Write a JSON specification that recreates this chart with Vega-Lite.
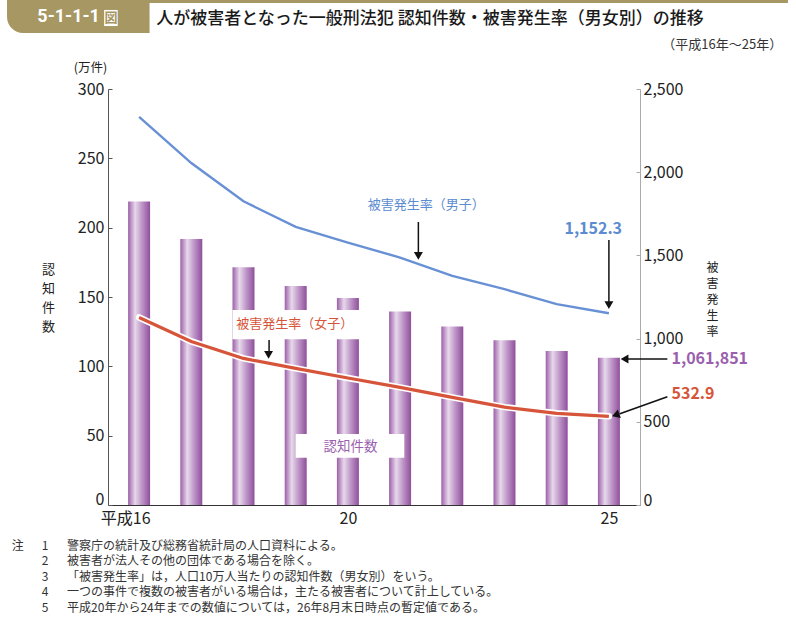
{
  "$schema": "https://vega.github.io/schema/vega-lite/v6.json",
  "width": 532,
  "height": 416,
  "autosize": {"type": "none"},
  "padding": {"left": 108, "top": 89, "right": 156, "bottom": 113},
  "background": "white",
  "config": {"view": {"stroke": null}, "font": "Noto Sans CJK JP"},
  "layer": [
    {
      "data": {"values": [
        {"year": 16, "count": 218.9},
        {"year": 17, "count": 191.8},
        {"year": 18, "count": 171.5},
        {"year": 19, "count": 158.0},
        {"year": 20, "count": 149.2},
        {"year": 21, "count": 139.6},
        {"year": 22, "count": 128.8},
        {"year": 23, "count": 118.9},
        {"year": 24, "count": 111.0},
        {"year": 25, "count": 106.2}
      ]},
      "mark": {"type": "bar", "width": 22, "color": {"gradient": "linear", "x1": 0, "y1": 0, "x2": 1, "y2": 0, "stops": [
        {"offset": 0, "color": "#9d5fa9"},
        {"offset": 0.32, "color": "#e7d9eb"},
        {"offset": 0.62, "color": "#bf97c8"},
        {"offset": 1, "color": "#8f4f9b"}
      ]}},
      "encoding": {
        "x": {"field": "year", "type": "quantitative", "title": null,
          "scale": {"domain": [15.5, 25.5], "nice": false, "zero": false},
          "axis": {"values": [16, 20, 25], "labelExpr": "datum.value == 16 ? '平成16' : datum.label",
            "ticks": false, "grid": false, "domainColor": "#333", "domainWidth": 1,
            "labelFontSize": 16, "labelColor": "#222", "labelPadding": 5, "labelFlush": false, "labelOverlap": false,
            "labelAlign": {"condition": {"test": "datum.value == 16", "value": "right"}, "value": "center"},
            "labelOffset": {"condition": {"test": "datum.value == 16", "value": 11}, "value": 0}}},
        "y": {"field": "count", "type": "quantitative",
          "scale": {"domain": [0, 300], "nice": false},
          "axis": {"values": [0, 50, 100, 150, 200, 250, 300], "grid": false, "tickSize": -4,
            "domainColor": "#555", "tickColor": "#555", "labelFontSize": 16, "labelColor": "#222", "labelPadding": 8,
            "labelOffset": {"condition": {"test": "datum.value == 0", "value": -6}, "value": 0},
            "title": ["認", "知", "件", "数"], "titleAngle": 0, "titleX": -60, "titleY": 174, "titleAlign": "center",
            "titleBaseline": "top", "titleLineHeight": 19, "titleFontSize": 13, "titleFontWeight": "normal", "titleColor": "#222"}}
      }
    },
    {
      "data": {"values": [
        {"year": 16, "sex": "男子", "rate": 2332},
        {"year": 17, "sex": "男子", "rate": 2055},
        {"year": 18, "sex": "男子", "rate": 1825},
        {"year": 19, "sex": "男子", "rate": 1671},
        {"year": 20, "sex": "男子", "rate": 1577},
        {"year": 21, "sex": "男子", "rate": 1487},
        {"year": 22, "sex": "男子", "rate": 1377},
        {"year": 23, "sex": "男子", "rate": 1297},
        {"year": 24, "sex": "男子", "rate": 1207},
        {"year": 25, "sex": "男子", "rate": 1152.3},
        {"year": 16, "sex": "女子", "rate": 1127},
        {"year": 17, "sex": "女子", "rate": 983},
        {"year": 18, "sex": "女子", "rate": 881},
        {"year": 19, "sex": "女子", "rate": 821},
        {"year": 20, "sex": "女子", "rate": 763},
        {"year": 21, "sex": "女子", "rate": 707},
        {"year": 22, "sex": "女子", "rate": 647},
        {"year": 23, "sex": "女子", "rate": 588},
        {"year": 24, "sex": "女子", "rate": 551},
        {"year": 25, "sex": "女子", "rate": 532.9}
      ]},
      "encoding": {
        "x": {"field": "year", "type": "quantitative", "title": null},
        "y": {"field": "rate", "type": "quantitative",
          "scale": {"domain": [0, 2500], "nice": false},
          "axis": {"orient": "right", "values": [0, 500, 1000, 1500, 2000, 2500], "labelExpr": "format(datum.value, ',')", "grid": false, "tickSize": -4,
            "domainColor": "#aaa", "tickColor": "#aaa", "labelFontSize": 16, "labelColor": "#222", "labelPadding": 7,
            "labelOffset": {"condition": {"test": "datum.value == 0", "value": -5}, "value": 0},
            "title": ["被", "害", "発", "生", "率"], "titleAngle": 0, "titleX": 72, "titleY": 173, "titleAlign": "center",
            "titleBaseline": "top", "titleLineHeight": 16, "titleFontSize": 12, "titleFontWeight": "normal", "titleColor": "#222"}}
      },
      "layer": [
        {"transform": [{"filter": "datum.sex == '女子'"}], "mark": {"type": "line", "color": "white", "strokeWidth": 6.5, "strokeCap": "round"}, "encoding": {}},
        {"transform": [{"filter": "datum.sex == '女子'"}], "mark": {"type": "line", "color": "#d6553a", "strokeWidth": 3.2}, "encoding": {}},
        {"transform": [{"filter": "datum.sex == '男子'"}], "mark": {"type": "line", "color": "#6890d5", "strokeWidth": 2.4}, "encoding": {}}
      ]
    },
    {
      "layer": [
        {
          "data": {"values": [
            {"x": 13.47, "x2": 28.43, "y": 364.2, "y2": 362.0}
          ]},
          "mark": {"type": "rect", "color": "#a69763"},
          "encoding": {
            "x": {"field": "x", "type": "quantitative", "title": null}, "x2": {"field": "x2"},
            "y": {"field": "y", "type": "quantitative", "scale": {"domain": [0, 300], "nice": false}, "axis": null}, "y2": {"field": "y2"}
          }
        },
        {
          "data": {"values": [
            {"x": 13.47, "x2": 16.2, "y": 364.2, "y2": 340.4}
          ]},
          "mark": {"type": "rect", "color": "#a69763", "cornerRadiusBottomLeft": 16},
          "encoding": {
            "x": {"field": "x", "type": "quantitative", "title": null}, "x2": {"field": "x2"},
            "y": {"field": "y", "type": "quantitative", "scale": {"domain": [0, 300], "nice": false}, "axis": null}, "y2": {"field": "y2"}
          }
        },
        {
          "data": {"values": [
            {"x": 15.33, "x2": 15.59, "y": 357.0, "y2": 345.4},
            {"x": 17.79, "x2": 20.22, "y": 140.6, "y2": 119.5},
            {"x": 19.0, "x2": 21.08, "y": 51.2, "y2": 34.1}
          ]},
          "mark": {"type": "rect", "color": "white"},
          "encoding": {
            "x": {"field": "x", "type": "quantitative", "title": null}, "x2": {"field": "x2"},
            "y": {"field": "y", "type": "quantitative", "scale": {"domain": [0, 300], "nice": false}, "axis": null}, "y2": {"field": "y2"}
          }
        },
        {
          "data": {"values": [{"x": 14.65, "y": 351.6, "t": "5-1-1-1"}]},
          "mark": {"type": "text", "color": "white", "fontSize": 18, "fontWeight": "bold", "font": "Roboto", "align": "center", "baseline": "middle"},
          "encoding": {
            "x": {"field": "x", "type": "quantitative", "title": null},
            "y": {"field": "y", "type": "quantitative", "scale": {"domain": [0, 300], "nice": false}, "axis": null},
            "text": {"field": "t"}
          }
        },
        {
          "data": {"values": [{"x": 15.46, "y": 351.2, "t": "図"}]},
          "mark": {"type": "text", "color": "#a69763", "fontSize": 13, "fontWeight": "bold", "align": "center", "baseline": "middle"},
          "encoding": {
            "x": {"field": "x", "type": "quantitative", "title": null},
            "y": {"field": "y", "type": "quantitative", "scale": {"domain": [0, 300], "nice": false}, "axis": null},
            "text": {"field": "t"}
          }
        },
        {
          "data": {"values": [{"x": 16.33, "y": 350.5, "t": "人が被害者となった一般刑法犯 認知件数・被害発生率（男女別）の推移"}]},
          "mark": {"type": "text", "color": "#1a1a1a", "fontSize": 17, "fontWeight": 500, "align": "left", "baseline": "middle"},
          "encoding": {
            "x": {"field": "x", "type": "quantitative", "title": null},
            "y": {"field": "y", "type": "quantitative", "scale": {"domain": [0, 300], "nice": false}, "axis": null},
            "text": {"field": "t"}
          }
        },
        {
          "data": {"values": [{"x": 28.32, "y": 331.7, "t": "（平成16年～25年）"}]},
          "mark": {"type": "text", "color": "#333", "fontSize": 13, "align": "right", "baseline": "middle"},
          "encoding": {
            "x": {"field": "x", "type": "quantitative", "title": null},
            "y": {"field": "y", "type": "quantitative", "scale": {"domain": [0, 300], "nice": false}, "axis": null},
            "text": {"field": "t"}
          }
        },
        {
          "data": {"values": [{"x": 15.07, "y": 315.3, "t": "(万件)"}]},
          "mark": {"type": "text", "color": "#222", "fontSize": 12.5, "align": "center", "baseline": "middle"},
          "encoding": {
            "x": {"field": "x", "type": "quantitative", "title": null},
            "y": {"field": "y", "type": "quantitative", "scale": {"domain": [0, 300], "nice": false}, "axis": null},
            "text": {"field": "t"}
          }
        },
        {
          "data": {"values": [
            {"x": 21.5, "y": 216.3, "t": "被害発生率（男子）"}
          ]},
          "mark": {"type": "text", "color": "#5b8bd0", "fontSize": 13, "align": "center", "baseline": "middle"},
          "encoding": {
            "x": {"field": "x", "type": "quantitative", "title": null},
            "y": {"field": "y", "type": "quantitative", "scale": {"domain": [0, 300], "nice": false}, "axis": null},
            "text": {"field": "t"}
          }
        },
        {
          "data": {"values": [
            {"x": 18.98, "y": 130.5, "t": "被害発生率（女子）"}
          ]},
          "mark": {"type": "text", "color": "#d6553a", "fontSize": 13, "align": "center", "baseline": "middle"},
          "encoding": {
            "x": {"field": "x", "type": "quantitative", "title": null},
            "y": {"field": "y", "type": "quantitative", "scale": {"domain": [0, 300], "nice": false}, "axis": null},
            "text": {"field": "t"}
          }
        },
        {
          "data": {"values": [
            {"x": 20.05, "y": 42.0, "t": "認知件数"}
          ]},
          "mark": {"type": "text", "color": "#9a5fae", "fontSize": 13.5, "align": "center", "baseline": "middle"},
          "encoding": {
            "x": {"field": "x", "type": "quantitative", "title": null},
            "y": {"field": "y", "type": "quantitative", "scale": {"domain": [0, 300], "nice": false}, "axis": null},
            "text": {"field": "t"}
          }
        },
        {
          "data": {"values": [
            {"x": 24.7, "y": 198.8, "t": "1,152.3"}
          ]},
          "mark": {"type": "text", "color": "#5b8bd0", "fontSize": 16, "fontWeight": "bold", "align": "center", "baseline": "middle"},
          "encoding": {
            "x": {"field": "x", "type": "quantitative", "title": null},
            "y": {"field": "y", "type": "quantitative", "scale": {"domain": [0, 300], "nice": false}, "axis": null},
            "text": {"field": "t"}
          }
        },
        {
          "data": {"values": [
            {"x": 26.2, "y": 105.3, "t": "1,061,851"}
          ]},
          "mark": {"type": "text", "color": "#9a5fae", "fontSize": 16, "fontWeight": "bold", "align": "left", "baseline": "middle"},
          "encoding": {
            "x": {"field": "x", "type": "quantitative", "title": null},
            "y": {"field": "y", "type": "quantitative", "scale": {"domain": [0, 300], "nice": false}, "axis": null},
            "text": {"field": "t"}
          }
        },
        {
          "data": {"values": [
            {"x": 26.2, "y": 79.8, "t": "532.9"}
          ]},
          "mark": {"type": "text", "color": "#d6553a", "fontSize": 16, "fontWeight": "bold", "align": "left", "baseline": "middle"},
          "encoding": {
            "x": {"field": "x", "type": "quantitative", "title": null},
            "y": {"field": "y", "type": "quantitative", "scale": {"domain": [0, 300], "nice": false}, "axis": null},
            "text": {"field": "t"}
          }
        },
        {
          "data": {"values": [
            {"x": 21.35, "x2": 21.35, "y": 204.1, "y2": 181.0},
            {"x": 25.0, "x2": 25.0, "y": 191.1, "y2": 146.0},
            {"x": 18.49, "x2": 18.49, "y": 119.0, "y2": 109.5},
            {"x": 26.12, "x2": 25.36, "y": 105.3, "y2": 105.3},
            {"x": 26.12, "x2": 25.21, "y": 78.1, "y2": 65.8}
          ]},
          "mark": {"type": "rule", "color": "#111", "strokeWidth": 1.5},
          "encoding": {
            "x": {"field": "x", "type": "quantitative", "title": null}, "x2": {"field": "x2"},
            "y": {"field": "y", "type": "quantitative", "scale": {"domain": [0, 300], "nice": false}, "axis": null}, "y2": {"field": "y2"}
          }
        },
        {
          "data": {"values": [
            {"x": 21.35, "y": 179.6},
            {"x": 25.0, "y": 144.2},
            {"x": 18.48, "y": 108.2}
          ]},
          "mark": {"type": "point", "shape": "triangle-down", "filled": true, "color": "#111", "size": 80, "opacity": 1},
          "encoding": {
            "x": {"field": "x", "type": "quantitative", "title": null},
            "y": {"field": "y", "type": "quantitative", "scale": {"domain": [0, 300], "nice": false}, "axis": null}
          }
        },
        {
          "data": {"values": [
            {"x": 25.3, "y": 105.3}
          ]},
          "mark": {"type": "point", "shape": "triangle-left", "filled": true, "color": "#111", "size": 80, "opacity": 1},
          "encoding": {
            "x": {"field": "x", "type": "quantitative", "title": null},
            "y": {"field": "y", "type": "quantitative", "scale": {"domain": [0, 300], "nice": false}, "axis": null}
          }
        },
        {
          "data": {"values": [
            {"x": 25.13, "y": 64.9}
          ]},
          "mark": {"type": "point", "shape": "triangle-left", "filled": true, "color": "#111", "size": 80, "opacity": 1, "angle": 340},
          "encoding": {
            "x": {"field": "x", "type": "quantitative", "title": null},
            "y": {"field": "y", "type": "quantitative", "scale": {"domain": [0, 300], "nice": false}, "axis": null}
          }
        },
        {
          "data": {"values": [{"x": 13.56, "y": -29.6, "t": "注"}]},
          "mark": {"type": "text", "color": "#333", "fontSize": 12, "align": "left", "baseline": "middle"},
          "encoding": {
            "x": {"field": "x", "type": "quantitative", "title": null},
            "y": {"field": "y", "type": "quantitative", "scale": {"domain": [0, 300], "nice": false}, "axis": null},
            "text": {"field": "t"}
          }
        },
        {
          "data": {"values": [
            {"n": "1", "y": -29.6, "t": "警察庁の統計及び総務省統計局の人口資料による。"},
            {"n": "2", "y": -40.7, "t": "被害者が法人その他の団体である場合を除く。"},
            {"n": "3", "y": -51.9, "t": "「被害発生率」は，人口10万人当たりの認知件数（男女別）をいう。"},
            {"n": "4", "y": -63.1, "t": "一つの事件で複数の被害者がいる場合は，主たる被害者について計上している。"},
            {"n": "5", "y": -74.3, "t": "平成20年から24年までの数値については，26年8月末日時点の暫定値である。"}
          ]},
          "encoding": {
            "y": {"field": "y", "type": "quantitative", "scale": {"domain": [0, 300], "nice": false}, "axis": null}
          },
          "layer": [
            {
              "mark": {"type": "text", "color": "#333", "fontSize": 12, "align": "center", "baseline": "middle"},
              "encoding": {"x": {"datum": 14.2, "type": "quantitative", "title": null}, "text": {"field": "n"}}
            },
            {
              "mark": {"type": "text", "color": "#333", "fontSize": 12, "align": "left", "baseline": "middle"},
              "encoding": {"x": {"datum": 14.62, "type": "quantitative", "title": null}, "text": {"field": "t"}}
            }
          ]
        }
      ]
    }
  ],
  "resolve": {"scale": {"y": "independent"}}
}
